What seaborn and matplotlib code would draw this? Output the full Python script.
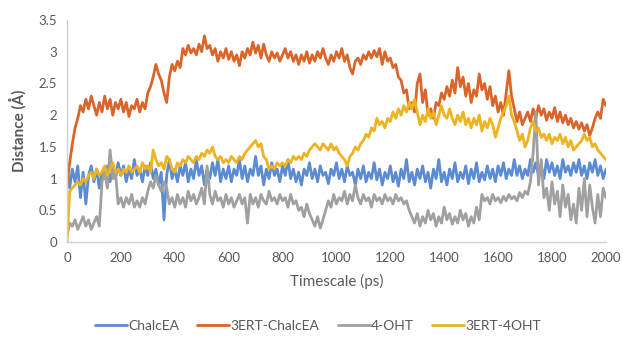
import numpy as np
import pandas as pd
import matplotlib
matplotlib.use("Agg")
import matplotlib.pyplot as plt
import seaborn as sns

# time axis, one value every 10 ps
time_ps = list(range(0, 2001, 10))

chalcea = [
    1.2, 0.85, 1.15, 0.95, 1.2, 0.7, 1.1, 0.6, 1.05, 1.2,
    0.95, 1.15, 0.85, 1.1, 1.0, 1.2, 0.95, 1.15, 1.0, 1.25,
    1.05, 1.2, 0.95, 1.15, 1.0, 1.3, 1.05, 1.15, 0.95, 1.2,
    1.05, 1.25, 1.0, 1.15, 0.9, 1.1, 0.35, 1.05, 1.3, 1.0,
    1.15, 0.95, 1.2, 1.05, 1.25, 0.95, 1.15, 1.0, 1.3, 1.05,
    1.2, 0.9, 1.15, 1.0, 1.25, 1.05, 1.3, 0.95, 1.15, 1.0,
    1.2, 0.95, 1.15, 1.05, 1.3, 1.0, 1.2, 0.95, 1.15, 1.05,
    1.35, 1.05, 1.2, 0.9, 1.15, 1.0, 1.25, 1.05, 1.15, 0.95,
    1.2, 1.05, 1.3, 1.0, 1.15, 0.95, 1.1, 0.9, 1.15, 1.05,
    1.25, 1.0, 1.15, 0.95, 1.2, 1.05, 1.1, 0.92, 1.15, 1.05,
    1.25, 1.0, 1.15, 0.95, 1.2, 1.05, 1.1, 0.9, 1.15, 1.0,
    1.2, 0.95, 1.1, 1.0, 1.25, 0.98, 1.15, 0.9, 1.1, 1.0,
    1.2, 0.95, 1.1, 0.88, 1.15, 1.0, 1.3, 0.95, 1.1, 0.9,
    1.15, 1.0, 1.2, 0.95, 1.1, 0.85, 1.15, 1.0, 1.3, 0.95,
    1.1, 0.9, 1.15, 1.0, 1.25, 0.95, 1.1, 1.0, 1.2, 0.92,
    1.15, 1.0, 1.25, 0.95, 1.1, 0.98, 1.2, 1.0, 1.15, 0.95,
    1.2, 1.05, 1.25, 1.0, 1.15, 1.05, 1.3, 1.05, 1.2, 1.0,
    1.15, 1.05, 1.3, 1.1, 1.25, 1.05, 1.2, 1.0, 1.3, 1.1,
    1.25, 1.05, 1.2, 1.0, 1.3, 1.1, 1.2, 1.05, 1.25, 1.1,
    1.3, 1.05, 1.2, 1.0, 1.25, 1.1, 1.3, 1.05, 1.2, 1.0,
    1.15]

ert_chalcea = [
    0.88, 1.25, 1.55, 1.8, 1.95, 2.15, 2.05, 2.25, 2.1, 2.3,
    2.15, 2.0, 2.2, 2.05, 2.3, 2.1, 2.25, 2.0, 2.2, 2.1,
    2.25, 2.05, 2.2, 1.98, 2.15, 2.1, 2.25, 2.05, 2.2, 2.1,
    2.35, 2.45, 2.6, 2.8, 2.65, 2.55, 2.35, 2.2, 2.6, 2.8,
    2.7, 2.85, 2.75, 3.05, 2.95, 3.1, 2.98, 3.05, 2.95, 3.12,
    3.0, 3.25, 3.05, 3.1, 2.95, 3.05, 2.85, 3.0, 2.9, 3.05,
    2.88, 3.0, 2.85, 2.95, 2.78, 3.0, 2.9, 3.05, 2.95, 3.15,
    2.98, 3.1, 2.9, 3.12, 2.95, 2.85, 3.0, 2.9, 2.98, 2.85,
    2.95, 3.05, 2.9, 3.0, 2.85, 2.95, 2.8, 2.95, 2.85, 3.0,
    2.82, 2.95, 2.85, 3.0, 2.9, 3.05, 2.9, 2.8, 2.95, 2.85,
    3.0, 2.9, 3.05, 2.85, 2.95, 2.75, 2.65, 2.85, 2.9, 2.8,
    2.95, 2.88, 3.0, 2.9, 3.02, 2.92, 3.05, 2.8, 3.0, 2.85,
    2.9, 2.75, 2.8, 2.6, 2.55, 2.35, 2.4, 2.1, 2.2, 2.05,
    2.5, 2.65, 2.2, 2.4, 2.0, 2.1, 1.95, 2.2, 2.15, 2.35,
    2.25, 2.45, 2.3, 2.55, 2.35, 2.75, 2.45, 2.6, 2.3, 2.5,
    2.2, 2.4, 2.3, 2.65, 2.4, 2.5, 2.25, 2.45, 2.15, 2.3,
    2.05, 2.2, 2.0, 2.35, 2.7, 2.3, 2.1, 1.9, 2.05, 1.85,
    1.95, 2.05, 1.9, 2.1, 1.95, 2.15, 2.0, 2.1, 1.92, 2.05,
    1.95, 2.12, 1.9, 2.05, 1.88, 2.0, 1.85, 1.95, 1.8, 1.9,
    1.78, 1.88, 1.75, 1.85, 1.68, 1.8, 1.95, 2.05, 1.95, 2.25,
    2.15]

oht = [
    0.1, 0.3, 0.25, 0.35, 0.2, 0.3, 0.4, 0.25, 0.35, 0.2,
    0.3, 0.4, 0.25, 0.95, 1.1, 0.85, 1.45, 1.0, 1.1, 0.6,
    0.7, 0.55, 0.7, 0.6, 0.75, 0.55, 0.65, 0.55, 0.7, 0.6,
    0.8, 0.95, 0.85, 1.05, 0.9, 0.8, 0.95, 0.85, 0.6, 0.7,
    0.55, 0.75, 0.6, 0.7, 0.55, 0.8, 0.65, 0.75, 0.6, 0.7,
    0.85, 0.6, 1.2, 0.75, 0.6, 0.8, 0.65, 0.7, 0.55, 0.75,
    0.6, 0.7, 0.55, 0.65, 0.75, 0.6, 0.7, 0.3, 0.75, 0.6,
    0.7, 0.55, 0.75, 0.65, 0.6, 0.8, 0.65, 0.7, 0.6, 0.75,
    0.65, 0.7, 0.55, 0.75, 0.6, 0.65, 0.5, 0.55, 0.4, 0.6,
    0.45, 0.35, 0.25, 0.4, 0.22, 0.35, 0.5, 0.65, 0.55, 0.75,
    0.6, 0.7, 0.65, 0.8, 0.6, 0.75, 0.65, 0.9, 0.7, 0.6,
    0.75, 0.65, 0.7, 0.55, 0.75, 0.65, 0.7, 0.6, 0.75, 0.65,
    0.7, 0.6, 0.75, 0.65, 0.7, 0.6, 0.65, 0.5, 0.4, 0.3,
    0.45, 0.25, 0.4, 0.3, 0.5, 0.35, 0.45, 0.25, 0.4, 0.3,
    0.55, 0.35, 0.45, 0.28, 0.4, 0.3, 0.5, 0.35, 0.45, 0.25,
    0.4, 0.3, 0.55, 0.35, 0.75, 0.65, 0.7, 0.6, 0.75, 0.65,
    0.7, 0.62, 0.72, 0.65, 0.75, 0.68, 0.72, 0.65, 0.78, 0.7,
    0.8, 0.75, 0.95, 1.4, 2.05, 0.9, 1.3, 0.7, 0.85, 0.5,
    0.95, 0.6, 0.8, 0.4, 0.9, 0.55, 0.75, 0.35, 0.6, 0.3,
    0.85, 0.5, 1.0, 0.4, 0.9, 0.55, 0.3, 0.75, 0.4, 0.85,
    0.7]

ert_oht = [
    0.0, 0.8, 0.85, 0.9, 0.95, 0.9, 1.0, 0.95, 1.05, 1.1,
    1.0, 1.15, 1.05, 1.1, 1.2, 1.05, 1.15, 1.25, 1.1, 1.15,
    1.05, 1.15, 1.1, 1.2, 1.1, 1.15, 1.2, 1.1, 1.25, 1.15,
    1.2, 1.1, 1.45, 1.3, 1.2, 1.25, 1.15, 1.35, 1.3, 1.15,
    1.1, 1.25, 1.2, 1.3, 1.25, 1.35, 1.3, 1.25, 1.35, 1.3,
    1.4, 1.35, 1.45, 1.4, 1.5, 1.35, 1.3, 1.35, 1.25, 1.3,
    1.25, 1.35, 1.3, 1.25, 1.35, 1.3, 1.4, 1.45, 1.5, 1.55,
    1.6, 1.5, 1.55, 1.35, 1.3, 1.15, 1.2, 1.15, 1.25, 1.2,
    1.25, 1.2, 1.3, 1.25, 1.35, 1.3, 1.35, 1.3, 1.4, 1.35,
    1.45, 1.5, 1.55, 1.5, 1.45, 1.55, 1.5, 1.45, 1.55, 1.45,
    1.5, 1.4, 1.35, 1.3, 1.2, 1.35, 1.4, 1.5, 1.45, 1.55,
    1.6, 1.7, 1.65, 1.8, 1.75, 1.95, 1.85, 1.9, 1.8, 1.95,
    1.9, 2.05, 1.95, 2.1, 2.0, 2.15, 2.05, 2.2, 2.1, 2.25,
    2.05, 1.85, 2.0, 1.9, 2.1, 1.95, 2.05, 1.85, 2.0, 2.15,
    2.0, 1.95, 2.1, 1.95, 1.85, 2.0, 1.9, 2.05, 1.85, 1.95,
    1.8, 1.95, 1.85, 2.0, 1.75, 1.9, 1.8, 1.95, 1.85, 1.65,
    1.8, 1.95, 2.05, 2.15, 2.3, 2.0, 1.9, 1.75, 1.6, 1.7,
    1.5, 1.6, 1.8, 1.9, 1.75, 1.8, 1.65, 1.7, 1.6, 1.7,
    1.55, 1.65, 1.6, 1.7, 1.55, 1.65, 1.5, 1.6, 1.45, 1.5,
    1.55, 1.6, 1.7, 1.6, 1.65, 1.5, 1.55, 1.45, 1.4, 1.35,
    1.3]

series_names = ["ChalcEA", "3ERT-ChalcEA", "4-OHT", "3ERT-4OHT"]
series_colors = ["#5B8BD3", "#D9652B", "#A0A0A0", "#EDB320"]
y_ticks = [0, 0.5, 1, 1.5, 2, 2.5, 3, 3.5]
y_tick_labels = ["0", "0.5", "1", "1.5", "2", "2.5", "3", "3.5"]
x_ticks = list(range(0, 2001, 200))

# long form table for seaborn
frames = []
for name, vals in zip(series_names, [chalcea, ert_chalcea, oht, ert_oht]):
    frames.append(pd.DataFrame({"time": time_ps, "dist": vals, "series": name}))
df = pd.concat(frames, ignore_index=True)

sns.set_style("white")
plt.rcParams['font.family'] = ['Lato', 'DejaVu Sans']

fig = plt.figure(figsize=(6.23, 3.39), dpi=100)
ax = fig.add_axes([0.1075, 0.286, 0.865, 0.655])

sns.lineplot(data=df, x="time", y="dist", hue="series", hue_order=series_names,
             palette=series_colors, linewidth=2.0, ax=ax, legend=False)

ax.set_xlim(0, 2000)
ax.set_ylim(0, 3.5)
ax.set_xticks(x_ticks)
ax.set_xticklabels([str(v) for v in x_ticks])
ax.set_yticks(y_ticks)
ax.set_yticklabels(y_tick_labels)
ax.tick_params(axis="both", length=0, labelsize=9.5, colors="#595959", pad=7)

for s in ["top", "right"]:
    ax.spines[s].set_visible(False)
for s in ["left", "bottom"]:
    ax.spines[s].set_color("#D0D0D0")
    ax.spines[s].set_linewidth(1.0)

ax.set_xlabel("Timescale (ps)", fontsize=11, color="#595959", labelpad=7)
ax.set_ylabel("Distance (Å)", fontsize=11, fontweight="bold", color="#595959", labelpad=9)

handles = [plt.Line2D([], [], color=c, linewidth=2.0) for c in series_colors]
fig.legend(handles, series_names, loc="center", bbox_to_anchor=(318 / 623, 1 - 326 / 339),
           ncol=4, frameon=False, fontsize=10, handlelength=2.3, handletextpad=0.1,
           columnspacing=1.3, labelcolor="#595959")

fig.savefig("out.png", dpi=100)
